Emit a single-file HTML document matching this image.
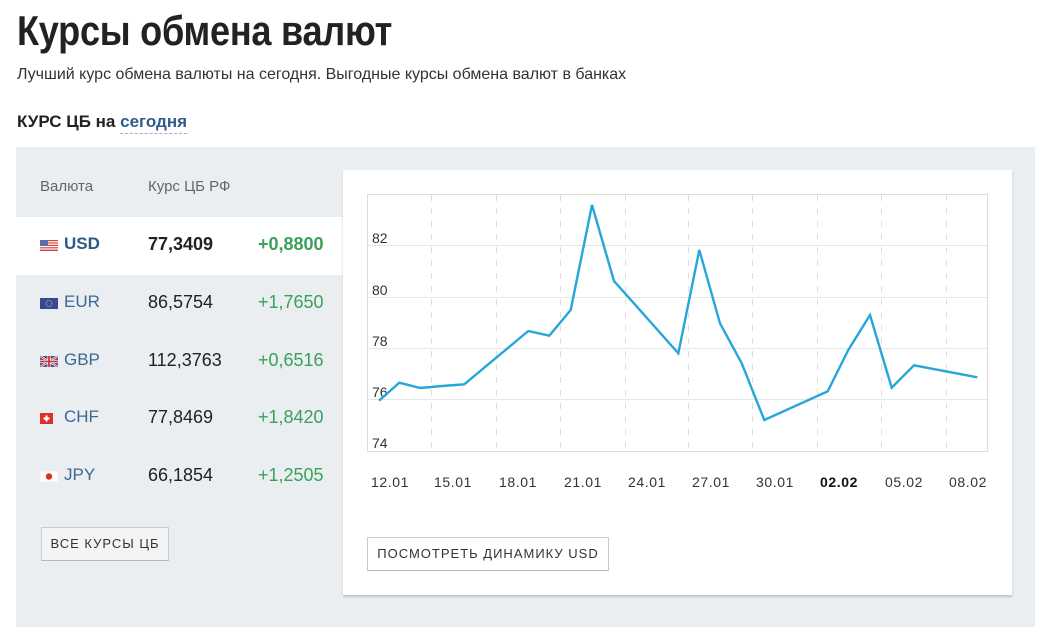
<!DOCTYPE html>
<html><head><meta charset="utf-8">
<style>
*{margin:0;padding:0;box-sizing:border-box}
html,body{width:1045px;height:618px;overflow:hidden;background:#fff;font-family:"Liberation Sans","DejaVu Sans",sans-serif;color:#222}
.abs{position:absolute;white-space:nowrap}
#title{left:17px;top:7px;font-size:42px;font-weight:bold;color:#222;transform:scaleX(0.86);transform-origin:0 0;letter-spacing:-0.3px}
#sub{left:17px;top:66px;font-size:16px;color:#333;transform-origin:0 0}
#kurs{left:17px;top:112px;font-size:17px;font-weight:bold;color:#222}
#kurs span{color:#2e5d8a;border-bottom:1px dashed #9bb0c4;padding-bottom:2px}
#panel{left:16px;top:147px;width:1019px;height:480px;background:#ebeef0}
#usdrow{left:16px;top:217px;width:327px;height:58px;background:#fff}
#card{left:343px;top:170px;width:669px;height:425px;background:#fff;box-shadow:0 2px 2px rgba(0,0,0,0.18)}
.hdr{font-size:15px;color:#666;top:178px}
.code{font-size:17px;color:#3a6896;left:64px}
.val{font-size:18px;color:#222;left:148px}
.chg{font-size:18px;color:#3aa05c;left:258px}
.b{font-weight:bold}
.flag{left:40px;width:18px;height:11px}
.btn{border:1px solid #c9cccf;border-bottom-color:#b5b8bb;font-size:13px;letter-spacing:1px;color:#333;text-align:center}
</style></head><body>
<div id="title" class="abs">Курсы обмена валют</div>
<div id="sub" class="abs">Лучший курс обмена валюты на сегодня. Выгодные курсы обмена валют в банках</div>
<div id="kurs" class="abs">КУРС ЦБ на <span>сегодня</span></div>
<div id="panel" class="abs"></div>
<div id="usdrow" class="abs"></div>
<div id="card" class="abs"></div>

<div class="abs hdr" style="left:40px">Валюта</div>
<div class="abs hdr" style="left:148px">Курс ЦБ РФ</div>

<!-- flags -->
<svg class="abs flag" style="top:240px" viewBox="0 0 18 11"><rect width="18" height="11" fill="#fff"/><g fill="#d4473f"><rect y="0" width="18" height="1.2"/><rect y="2.4" width="18" height="1.2"/><rect y="4.8" width="18" height="1.2"/><rect y="7.2" width="18" height="1.2"/><rect y="9.6" width="18" height="1.4"/></g><rect width="8" height="6" fill="#5b6ea8"/></svg>
<svg class="abs flag" style="top:298px" viewBox="0 0 18 11"><rect width="18" height="11" fill="#34479a"/><circle cx="9" cy="5.5" r="3" fill="none" stroke="#e8c93a" stroke-width="1" stroke-dasharray="1 1"/></svg>
<svg class="abs flag" style="top:356px" viewBox="0 0 18 11"><rect width="18" height="11" fill="#3c4e8e"/><path d="M0 0L18 11M18 0L0 11" stroke="#fff" stroke-width="2.2"/><path d="M0 0L18 11M18 0L0 11" stroke="#c8333a" stroke-width="0.8"/><path d="M9 0V11M0 5.5H18" stroke="#fff" stroke-width="3.2"/><path d="M9 0V11M0 5.5H18" stroke="#c8333a" stroke-width="1.8"/></svg>
<svg class="abs flag" style="top:413px" viewBox="0 0 18 11"><rect width="13" height="11" fill="#d8322b"/><path d="M6.5 2.5V8.5M3.5 5.5H9.5" stroke="#fff" stroke-width="2"/></svg>
<svg class="abs flag" style="top:471px" viewBox="0 0 18 11"><rect width="18" height="11" fill="#fff" stroke="#ddd" stroke-width="0.5"/><circle cx="9" cy="5.5" r="3.2" fill="#d8322b"/></svg>

<div class="abs code b" style="top:234px;color:#2b5a88">USD</div>
<div class="abs val b" style="top:234px">77,3409</div>
<div class="abs chg b" style="top:234px">+0,8800</div>

<div class="abs code" style="top:292px">EUR</div>
<div class="abs val" style="top:292px">86,5754</div>
<div class="abs chg" style="top:292px">+1,7650</div>

<div class="abs code" style="top:350px">GBP</div>
<div class="abs val" style="top:350px">112,3763</div>
<div class="abs chg" style="top:350px">+0,6516</div>

<div class="abs code" style="top:407px">CHF</div>
<div class="abs val" style="top:407px">77,8469</div>
<div class="abs chg" style="top:407px">+1,8420</div>

<div class="abs code" style="top:465px">JPY</div>
<div class="abs val" style="top:465px">66,1854</div>
<div class="abs chg" style="top:465px">+1,2505</div>

<div class="abs btn" style="left:41px;top:527px;width:128px;height:34px;line-height:32px;background:#f3f4f5">ВСЕ КУРСЫ ЦБ</div>
<div class="abs btn" style="left:367px;top:537px;width:242px;height:34px;line-height:32px;background:#fff">ПОСМОТРЕТЬ ДИНАМИКУ USD</div>

<svg class="abs" style="left:0;top:0" width="1045" height="618" viewBox="0 0 1045 618">
<g stroke="#e6e6e6" stroke-width="1" fill="none">
<line x1="367" y1="245.5" x2="988" y2="245.5"/>
<line x1="367" y1="297.5" x2="988" y2="297.5"/>
<line x1="367" y1="348.5" x2="988" y2="348.5"/>
<line x1="367" y1="399.5" x2="988" y2="399.5"/>
</g>
<g stroke="#dedede" stroke-width="1" stroke-dasharray="6 7" fill="none">
<line x1="431.5" y1="195" x2="431.5" y2="451"/>
<line x1="496.5" y1="195" x2="496.5" y2="451"/>
<line x1="560.5" y1="195" x2="560.5" y2="451"/>
<line x1="625.5" y1="195" x2="625.5" y2="451"/>
<line x1="688.5" y1="195" x2="688.5" y2="451"/>
<line x1="752.5" y1="195" x2="752.5" y2="451"/>
<line x1="817.5" y1="195" x2="817.5" y2="451"/>
<line x1="881.5" y1="195" x2="881.5" y2="451"/>
<line x1="946.5" y1="195" x2="946.5" y2="451"/>
</g>
<rect x="367.5" y="194.5" width="620" height="257" fill="none" stroke="#dcdcdc"/>
<g font-family="Liberation Sans, sans-serif" font-size="14" fill="#333">
<text x="372" y="243">82</text>
<text x="372" y="295">80</text>
<text x="372" y="346">78</text>
<text x="372" y="397">76</text>
<text x="372" y="448">74</text>
</g>
<polyline fill="none" stroke="#27a6da" stroke-width="2.4" stroke-linejoin="miter" points="379,400.7 399.3,382.7 420.3,388 442,386 464.3,384.3 528.3,331 549.3,335.7 570.7,310 592,205 614,281 678.3,353.3 699.3,250 720,323.3 741.7,363.3 764.3,420 827.7,391.3 848.3,350 870,315 891.7,387.7 914,365.3 977.3,377.3"/>
<g font-family="Liberation Sans, sans-serif" font-size="14" fill="#333" letter-spacing="0.6">
<text x="371" y="487">12.01</text>
<text x="434" y="487">15.01</text>
<text x="499" y="487">18.01</text>
<text x="564" y="487">21.01</text>
<text x="628" y="487">24.01</text>
<text x="692" y="487">27.01</text>
<text x="756" y="487">30.01</text>
<text x="820" y="487" font-weight="bold" fill="#111">02.02</text>
<text x="885" y="487">05.02</text>
<text x="949" y="487">08.02</text>
</g>
</svg>
</body></html>
